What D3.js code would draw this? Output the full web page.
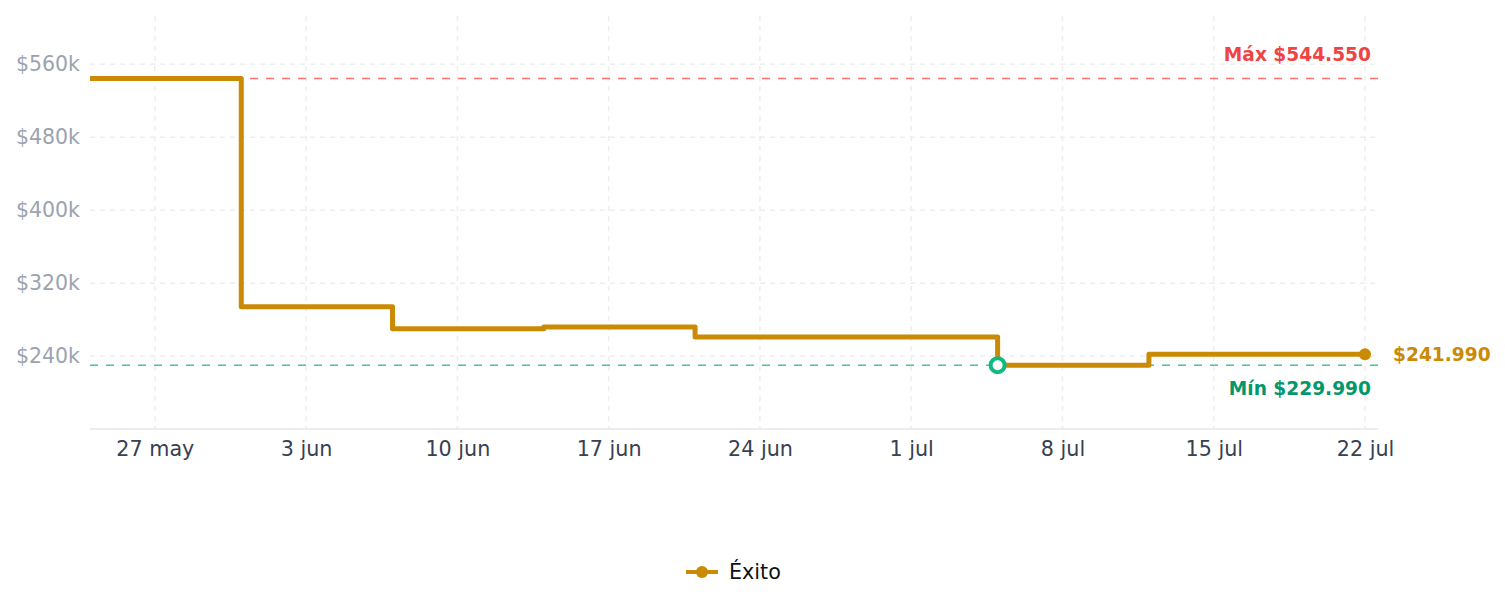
<!DOCTYPE html>
<html><head><meta charset="utf-8">
<script src="https://cdn.jsdelivr.net/npm/d3@7"></script>
<style>
html,body{margin:0;padding:0;background:#fff;}
svg{display:block;font-family:"DejaVu Sans",sans-serif;}
</style></head>
<body><svg id="c" width="1505" height="607"></svg>
<script>
// Data
const dates = ["2024-05-24","2024-05-31","2024-06-07","2024-06-14","2024-06-21","2024-07-05","2024-07-12","2024-07-22"];
const prices = [544550, 293990, 269990, 271990, 260990, 229990, 241990, 241990];
const seriesName = "Éxito";
const yTicks = [240000, 320000, 400000, 480000, 560000];
const xTickDates = ["2024-05-27","2024-06-03","2024-06-10","2024-06-17","2024-06-24","2024-07-01","2024-07-08","2024-07-15","2024-07-22"];
const monthNames = ["ene","feb","mar","abr","may","jun","jul","ago","sep","oct","nov","dic"];
const maxLabel = "Máx $544.550", minLabel = "Mín $229.990", lastLabel = "$241.990";

const parse = d3.utcParse("%Y-%m-%d");
const data = dates.map((d,i)=>({date: parse(d), v: prices[i]}));
const svg = d3.select("#c");
const L = 90, R = 1378, T = 16, B = 429;
const x = d3.scaleUtc().domain([parse("2024-05-24"), parse("2024-07-22")]).range([90, 1365]);
const y = d3.scaleLinear().domain([160000, 613000]).range([B, T]);

const gold = "#CA8A04";
// grid
const g = svg.append("g");
g.selectAll("line.h").data(yTicks).join("line")
  .attr("x1", L).attr("x2", R).attr("y1", d=>y(d)).attr("y2", d=>y(d))
  .attr("stroke", "#eeeeee").attr("stroke-width", 1.5).attr("stroke-dasharray", "5,5");
g.selectAll("line.v").data(xTickDates.map(parse)).join("line")
  .attr("x1", d=>x(d)).attr("x2", d=>x(d)).attr("y1", T).attr("y2", B)
  .attr("stroke", "#eeeeee").attr("stroke-width", 1.5).attr("stroke-dasharray", "5,5");

// y axis labels
const yAxis = d3.axisLeft(y).tickValues(yTicks).tickSize(0).tickPadding(10)
  .tickFormat(d => "$" + (d/1000) + "k");
const ya = svg.append("g").attr("transform", `translate(${L},0)`).call(yAxis);
ya.select(".domain").remove();
ya.selectAll("text").attr("fill", "#9CA3AF").attr("font-size", 20.5).attr("font-family", "DejaVu Sans");

// x axis
const xAxis = d3.axisBottom(x).tickValues(xTickDates.map(parse)).tickSize(0).tickPadding(12)
  .tickFormat(d => d.getUTCDate() + " " + monthNames[d.getUTCMonth()]);
const xa = svg.append("g").attr("transform", `translate(0,${B})`).call(xAxis);
xa.select(".domain").remove();
xa.selectAll("text").attr("fill", "#374151").attr("font-size", 20.7).attr("font-family", "DejaVu Sans");
svg.append("line").attr("x1", L).attr("x2", R).attr("y1", B).attr("y2", B)
  .attr("stroke", "#e5e7eb").attr("stroke-width", 1.5);

// reference lines
const maxV = d3.max(prices), minV = d3.min(prices);
svg.append("line").attr("x1", L).attr("x2", R).attr("y1", y(maxV)).attr("y2", y(maxV))
  .attr("stroke", "#F87171").attr("stroke-width", 1.5).attr("stroke-dasharray", "8,8");
svg.append("line").attr("x1", L).attr("x2", R).attr("y1", y(minV)).attr("y2", y(minV))
  .attr("stroke", "#10B981").attr("stroke-opacity", 0.8).attr("stroke-width", 1.5).attr("stroke-dasharray", "8,8");
svg.append("text").attr("x", 1371).attr("y", y(maxV) - 17).attr("text-anchor", "end")
  .attr("font-size", 18.6).attr("font-weight", "bold").attr("fill", "#EF4444").text(maxLabel);
svg.append("text").attr("x", 1371).attr("y", y(minV) + 30).attr("text-anchor", "end")
  .attr("font-size", 18.6).attr("font-weight", "bold").attr("fill", "#059669").text(minLabel);

// line
const line = d3.line().x(d=>x(d.date)).y(d=>y(d.v)).curve(d3.curveStepAfter);
svg.append("path").datum(data).attr("d", line).attr("fill", "none")
  .attr("stroke", gold).attr("stroke-width", 5).attr("stroke-linejoin", "round");

// min marker
const minPt = data.find(d=>d.v===minV);
svg.append("circle").attr("cx", x(minPt.date)).attr("cy", y(minPt.v)).attr("r", 7)
  .attr("fill", "#fff").attr("stroke", "#10B981").attr("stroke-width", 4);
// last point
const last = data[data.length-1];
svg.append("circle").attr("cx", x(last.date)).attr("cy", y(last.v)).attr("r", 6).attr("fill", gold);
svg.append("text").attr("x", x(last.date) + 28).attr("y", y(last.v)).attr("dy", "0.35em")
  .attr("font-size", 18.6).attr("font-weight", "bold").attr("fill", gold).text(lastLabel);

// legend
const lg = svg.append("g").attr("transform", "translate(686,572)");
lg.append("line").attr("x1", 0).attr("x2", 32).attr("y1", 0).attr("y2", 0).attr("stroke", gold).attr("stroke-width", 4);
lg.append("circle").attr("cx", 16).attr("cy", 0).attr("r", 6).attr("fill", gold);
lg.append("text").attr("x", 43).attr("y", 0).attr("dy", "0.35em").attr("font-size", 20.7).attr("fill", "#111").text(seriesName);
</script></body></html>
